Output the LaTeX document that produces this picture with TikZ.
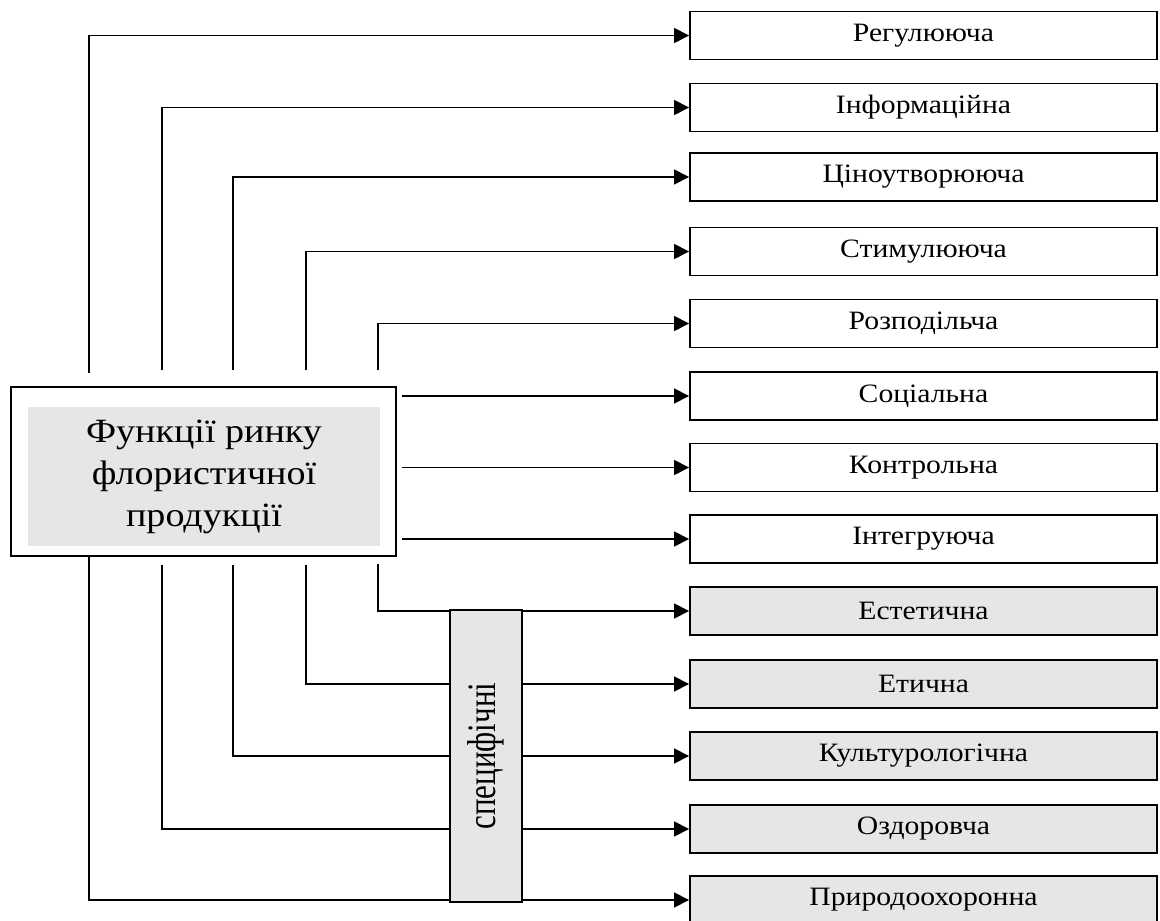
\documentclass[tikz,border=0pt]{standalone}
\usepackage{fontspec}
\setmainfont{Liberation Serif}[FakeStretch=1.12]
\newfontfamily\specfont{Liberation Serif}
\usetikzlibrary{arrows.meta}
\definecolor{boxgray}{RGB}{230,230,230}
\begin{document}
\begin{tikzpicture}[x=1pt,y=-1pt,
  conn/.style={line width=1.6pt},
  arr/.style={conn,-{Triangle[length=15pt,width=15pt]}},
  fbox/.style={draw,line width=1.9pt,minimum width=467pt,minimum height=48pt,inner sep=0pt,font=\fontsize{26.5}{30}\selectfont},
  gbox/.style={fbox,fill=boxgray}]
\useasboundingbox (0,0) rectangle (1160,921);

% right-hand boxes
\node[fbox] (r1) at (923.5,35.5) {Регулююча};
\node[fbox] (r2) at (923.5,107.5) {Інформаційна};
\node[fbox] (r3) at (923.5,177) {Ціноутворююча};
\node[fbox] (r4) at (923.5,251.5) {Стимулююча};
\node[fbox] (r5) at (923.5,323.5) {Розподільча};
\node[fbox] (r6) at (923.5,396) {Соціальна};
\node[fbox] (r7) at (923.5,467.5) {Контрольна};
\node[fbox] (r8) at (923.5,539) {Інтегруюча};
\node[gbox] (r9) at (923.5,611) {Естетична};
\node[gbox] (r10) at (923.5,684) {Етична};
\node[gbox] (r11) at (923.5,756) {Культурологічна};
\node[gbox] (r12) at (923.5,829) {Оздоровча};
\node[gbox] (r13) at (923.5,900) {Природоохоронна};

% main box
\node[draw,line width=1.9pt,minimum width=385pt,minimum height=169pt] (main) at (203.5,471.5) {};
\node[fill=boxgray,minimum width=352pt,minimum height=139pt,align=center,
      font=\fontsize{34}{42}\selectfont] (title) at (204,476.5)
      {Функції ринку\\флористичної\\продукції};

% specific box
\node[draw,fill=boxgray,line width=1.9pt,minimum width=72pt,minimum height=292pt] (spec) at (486,756) {};
\node[rotate=90,inner sep=0pt,font=\specfont\fontsize{31}{36}\selectfont] (spectext) at (spec.center)
      {\scalebox{1}[1.3]{специфічні}};

% free ends
\coordinate (t1) at (89,373);
\coordinate (t2) at (162,370);
\coordinate (t3) at (233,370);
\coordinate (t4) at (306,370);
\coordinate (t5) at (378,370);
\coordinate (m6) at (402,396);
\coordinate (m7) at (402,467.5);
\coordinate (m8) at (402,539);
\coordinate (b1) at (89,555);
\coordinate (b2) at (162,565);
\coordinate (b3) at (233,565);
\coordinate (b4) at (306,565);
\coordinate (b5) at (378,564);

% upper connectors
\draw[arr] (t1) |- (r1.west);
\draw[arr] (t2) |- (r2.west);
\draw[arr] (t3) |- (r3.west);
\draw[arr] (t4) |- (r4.west);
\draw[arr] (t5) |- (r5.west);

% middle connectors
\draw[arr] (m6) -- (r6.west);
\draw[arr] (m7) -- (r7.west);
\draw[arr] (m8) -- (r8.west);

% lower connectors through the specific box
\draw[conn] (b5) |- (spec.west |- r9.west);
\draw[arr] (spec.east |- r9.west) -- (r9.west);
\draw[conn] (b4) |- (spec.west |- r10.west);
\draw[arr] (spec.east |- r10.west) -- (r10.west);
\draw[conn] (b3) |- (spec.west |- r11.west);
\draw[arr] (spec.east |- r11.west) -- (r11.west);
\draw[conn] (b2) |- (spec.west |- r12.west);
\draw[arr] (spec.east |- r12.west) -- (r12.west);
\draw[conn] (b1) |- (spec.west |- r13.west);
\draw[arr] (spec.east |- r13.west) -- (r13.west);
\end{tikzpicture}
\end{document}
